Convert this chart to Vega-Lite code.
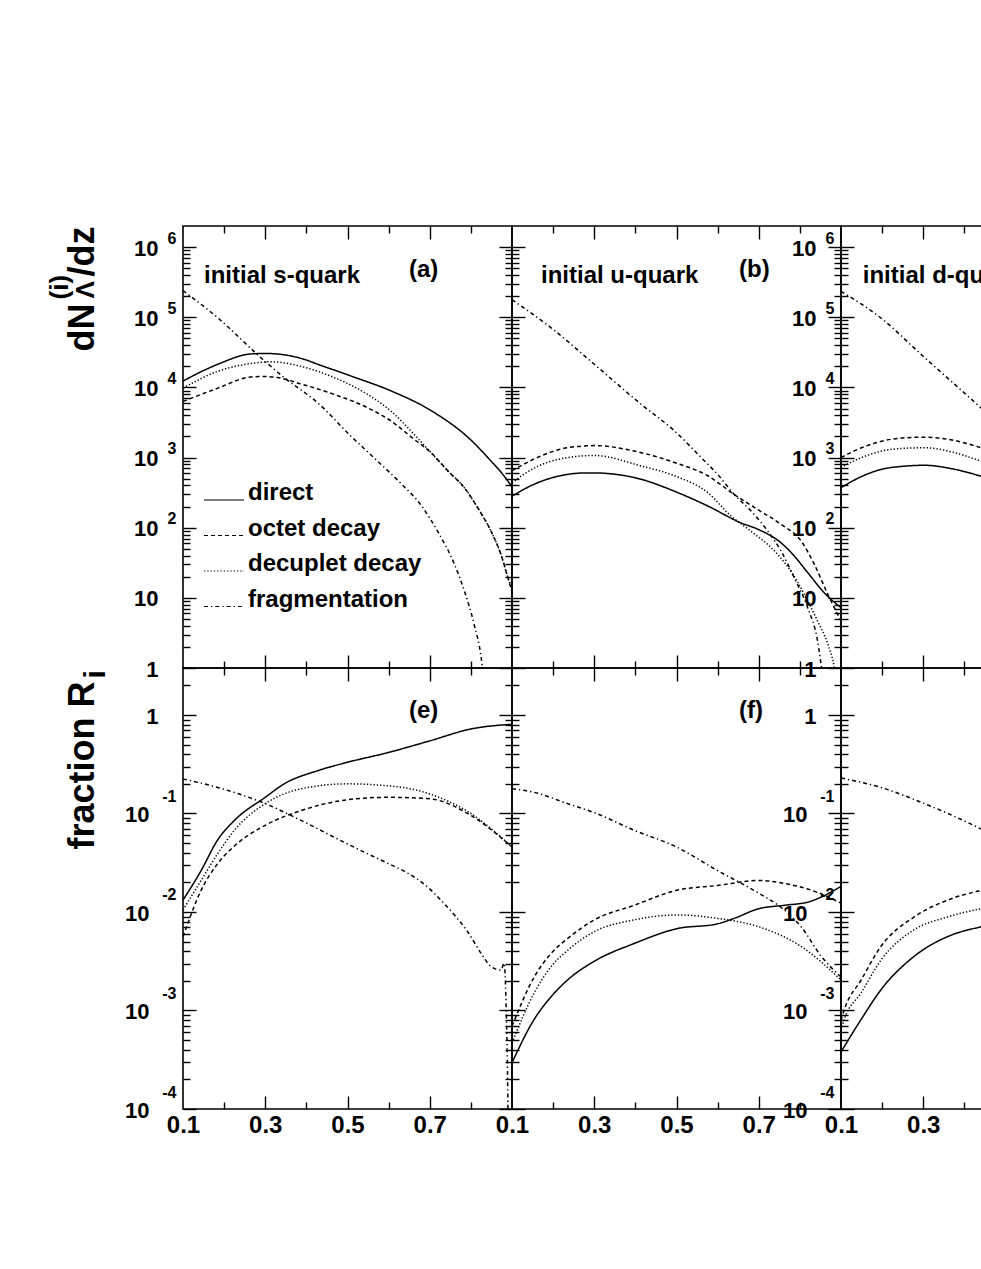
{
  "$schema": "https://vega.github.io/schema/vega-lite/v6.json",
  "background": "white",
  "padding": {"left": 45, "top": 224, "right": 0, "bottom": 0},
  "config": {
    "font": "Liberation Sans",
    "view": {"stroke": "black", "strokeWidth": 1.6},
    "axis": {
      "domain": false, "grid": false,
      "labelFont": "Liberation Sans", "labelFontWeight": "bold", "labelColor": "black",
      "labelOverlap": false, "labelFlush": false, "labelBound": false,
      "tickColor": "black", "tickWidth": 1.4,
      "titleFont": "Liberation Sans", "titleFontWeight": "bold", "titleColor": "black"
    }
  },
  "datasets": {
    "notes": [
      {"panel": "a", "label": "initial s-quark", "z": 0.151, "v": 307000},
      {"panel": "a", "label": "(a)", "z": 0.6495, "v": 373000},
      {"panel": "b", "label": "initial u-quark", "z": 0.1705, "v": 307000},
      {"panel": "b", "label": "(b)", "z": 0.652, "v": 373000},
      {"panel": "c", "label": "initial d-quark", "z": 0.153, "v": 310000},
      {"panel": "c", "label": "(c)", "z": 0.652, "v": 373000},
      {"panel": "e", "label": "(e)", "z": 0.6495, "v": 0.94},
      {"panel": "f", "label": "(f)", "z": 0.652, "v": 0.94},
      {"panel": "g", "label": "(g)", "z": 0.652, "v": 0.94}
    ],
    "curves": [
      {"panel": "a", "series": "direct", "z": 0.1, "v": 12300},
      {"panel": "a", "series": "direct", "z": 0.15, "v": 17400},
      {"panel": "a", "series": "direct", "z": 0.185, "v": 21400},
      {"panel": "a", "series": "direct", "z": 0.265, "v": 30000},
      {"panel": "a", "series": "direct", "z": 0.3, "v": 30500},
      {"panel": "a", "series": "direct", "z": 0.34, "v": 29500},
      {"panel": "a", "series": "direct", "z": 0.395, "v": 25100},
      {"panel": "a", "series": "direct", "z": 0.4275, "v": 21400},
      {"panel": "a", "series": "direct", "z": 0.509, "v": 14500},
      {"panel": "a", "series": "direct", "z": 0.606, "v": 8910},
      {"panel": "a", "series": "direct", "z": 0.703, "v": 4680},
      {"panel": "a", "series": "direct", "z": 0.8, "v": 1780},
      {"panel": "a", "series": "direct", "z": 0.849, "v": 891},
      {"panel": "a", "series": "direct", "z": 0.875, "v": 603},
      {"panel": "a", "series": "direct", "z": 0.9, "v": 380},
      {"panel": "a", "series": "octet decay", "z": 0.1, "v": 6310},
      {"panel": "a", "series": "octet decay", "z": 0.185, "v": 9770},
      {"panel": "a", "series": "octet decay", "z": 0.265, "v": 14100},
      {"panel": "a", "series": "octet decay", "z": 0.3, "v": 14300},
      {"panel": "a", "series": "octet decay", "z": 0.33, "v": 13800},
      {"panel": "a", "series": "octet decay", "z": 0.387, "v": 11200},
      {"panel": "a", "series": "octet decay", "z": 0.468, "v": 7940},
      {"panel": "a", "series": "octet decay", "z": 0.549, "v": 5130},
      {"panel": "a", "series": "octet decay", "z": 0.606, "v": 3310},
      {"panel": "a", "series": "octet decay", "z": 0.662, "v": 1820},
      {"panel": "a", "series": "octet decay", "z": 0.703, "v": 1175},
      {"panel": "a", "series": "octet decay", "z": 0.744, "v": 646},
      {"panel": "a", "series": "octet decay", "z": 0.784, "v": 372},
      {"panel": "a", "series": "octet decay", "z": 0.817, "v": 191},
      {"panel": "a", "series": "octet decay", "z": 0.849, "v": 89.1},
      {"panel": "a", "series": "octet decay", "z": 0.873, "v": 41.7},
      {"panel": "a", "series": "octet decay", "z": 0.89, "v": 19.5},
      {"panel": "a", "series": "octet decay", "z": 0.9, "v": 12},
      {"panel": "a", "series": "decuplet decay", "z": 0.1, "v": 9770},
      {"panel": "a", "series": "decuplet decay", "z": 0.185, "v": 17000},
      {"panel": "a", "series": "decuplet decay", "z": 0.265, "v": 21900},
      {"panel": "a", "series": "decuplet decay", "z": 0.314, "v": 23200},
      {"panel": "a", "series": "decuplet decay", "z": 0.387, "v": 19950},
      {"panel": "a", "series": "decuplet decay", "z": 0.468, "v": 13800},
      {"panel": "a", "series": "decuplet decay", "z": 0.549, "v": 7940},
      {"panel": "a", "series": "decuplet decay", "z": 0.606, "v": 4570},
      {"panel": "a", "series": "decuplet decay", "z": 0.662, "v": 2140},
      {"panel": "a", "series": "decuplet decay", "z": 0.703, "v": 1175},
      {"panel": "a", "series": "decuplet decay", "z": 0.744, "v": 646},
      {"panel": "a", "series": "decuplet decay", "z": 0.784, "v": 372},
      {"panel": "a", "series": "decuplet decay", "z": 0.817, "v": 191},
      {"panel": "a", "series": "decuplet decay", "z": 0.849, "v": 89.1},
      {"panel": "a", "series": "decuplet decay", "z": 0.873, "v": 41.7},
      {"panel": "a", "series": "decuplet decay", "z": 0.89, "v": 19.5},
      {"panel": "a", "series": "decuplet decay", "z": 0.9, "v": 13.8},
      {"panel": "a", "series": "fragmentation", "z": 0.1, "v": 240000},
      {"panel": "a", "series": "fragmentation", "z": 0.185, "v": 97700},
      {"panel": "a", "series": "fragmentation", "z": 0.29, "v": 26300},
      {"panel": "a", "series": "fragmentation", "z": 0.346, "v": 13800},
      {"panel": "a", "series": "fragmentation", "z": 0.4275, "v": 6030},
      {"panel": "a", "series": "fragmentation", "z": 0.509, "v": 2000},
      {"panel": "a", "series": "fragmentation", "z": 0.573, "v": 891},
      {"panel": "a", "series": "fragmentation", "z": 0.63, "v": 427},
      {"panel": "a", "series": "fragmentation", "z": 0.679, "v": 209},
      {"panel": "a", "series": "fragmentation", "z": 0.719, "v": 89.1},
      {"panel": "a", "series": "fragmentation", "z": 0.76, "v": 30.2},
      {"panel": "a", "series": "fragmentation", "z": 0.784, "v": 12.6},
      {"panel": "a", "series": "fragmentation", "z": 0.808, "v": 4.17},
      {"panel": "a", "series": "fragmentation", "z": 0.825, "v": 1.41},
      {"panel": "a", "series": "fragmentation", "z": 0.832, "v": 0.63},

      {"panel": "b", "series": "direct", "z": 0.1, "v": 282},
      {"panel": "b", "series": "direct", "z": 0.154, "v": 417},
      {"panel": "b", "series": "direct", "z": 0.235, "v": 575},
      {"panel": "b", "series": "direct", "z": 0.276, "v": 603},
      {"panel": "b", "series": "direct", "z": 0.3, "v": 603},
      {"panel": "b", "series": "direct", "z": 0.414, "v": 490},
      {"panel": "b", "series": "direct", "z": 0.495, "v": 331},
      {"panel": "b", "series": "direct", "z": 0.576, "v": 204},
      {"panel": "b", "series": "direct", "z": 0.657, "v": 117},
      {"panel": "b", "series": "direct", "z": 0.697, "v": 95.5},
      {"panel": "b", "series": "direct", "z": 0.754, "v": 61},
      {"panel": "b", "series": "direct", "z": 0.786, "v": 39.8},
      {"panel": "b", "series": "direct", "z": 0.819, "v": 22.9},
      {"panel": "b", "series": "direct", "z": 0.86, "v": 11.7},
      {"panel": "b", "series": "direct", "z": 0.9, "v": 7.24},
      {"panel": "b", "series": "octet decay", "z": 0.1, "v": 646},
      {"panel": "b", "series": "octet decay", "z": 0.154, "v": 955},
      {"panel": "b", "series": "octet decay", "z": 0.235, "v": 1380},
      {"panel": "b", "series": "octet decay", "z": 0.3, "v": 1480},
      {"panel": "b", "series": "octet decay", "z": 0.414, "v": 1175},
      {"panel": "b", "series": "octet decay", "z": 0.495, "v": 851},
      {"panel": "b", "series": "octet decay", "z": 0.576, "v": 550},
      {"panel": "b", "series": "octet decay", "z": 0.64, "v": 299},
      {"panel": "b", "series": "octet decay", "z": 0.697, "v": 182},
      {"panel": "b", "series": "octet decay", "z": 0.754, "v": 112},
      {"panel": "b", "series": "octet decay", "z": 0.803, "v": 64.6},
      {"panel": "b", "series": "octet decay", "z": 0.835, "v": 30.2},
      {"panel": "b", "series": "octet decay", "z": 0.868, "v": 11.2},
      {"panel": "b", "series": "octet decay", "z": 0.9, "v": 4.68},
      {"panel": "b", "series": "decuplet decay", "z": 0.1, "v": 437},
      {"panel": "b", "series": "decuplet decay", "z": 0.154, "v": 708},
      {"panel": "b", "series": "decuplet decay", "z": 0.235, "v": 1000},
      {"panel": "b", "series": "decuplet decay", "z": 0.3, "v": 1070},
      {"panel": "b", "series": "decuplet decay", "z": 0.414, "v": 759},
      {"panel": "b", "series": "decuplet decay", "z": 0.495, "v": 550},
      {"panel": "b", "series": "decuplet decay", "z": 0.576, "v": 316},
      {"panel": "b", "series": "decuplet decay", "z": 0.632, "v": 148},
      {"panel": "b", "series": "decuplet decay", "z": 0.681, "v": 89.1},
      {"panel": "b", "series": "decuplet decay", "z": 0.738, "v": 46.8},
      {"panel": "b", "series": "decuplet decay", "z": 0.778, "v": 24},
      {"panel": "b", "series": "decuplet decay", "z": 0.811, "v": 11.2},
      {"panel": "b", "series": "decuplet decay", "z": 0.843, "v": 4.68},
      {"panel": "b", "series": "decuplet decay", "z": 0.868, "v": 2.19},
      {"panel": "b", "series": "decuplet decay", "z": 0.884, "v": 1},
      {"panel": "b", "series": "decuplet decay", "z": 0.892, "v": 0.5},
      {"panel": "b", "series": "fragmentation", "z": 0.1, "v": 178000},
      {"panel": "b", "series": "fragmentation", "z": 0.195, "v": 70800},
      {"panel": "b", "series": "fragmentation", "z": 0.3, "v": 21400},
      {"panel": "b", "series": "fragmentation", "z": 0.414, "v": 5750},
      {"panel": "b", "series": "fragmentation", "z": 0.495, "v": 2400},
      {"panel": "b", "series": "fragmentation", "z": 0.56, "v": 1000},
      {"panel": "b", "series": "fragmentation", "z": 0.6, "v": 575},
      {"panel": "b", "series": "fragmentation", "z": 0.64, "v": 299},
      {"panel": "b", "series": "fragmentation", "z": 0.681, "v": 174},
      {"panel": "b", "series": "fragmentation", "z": 0.722, "v": 89.1},
      {"panel": "b", "series": "fragmentation", "z": 0.754, "v": 46.8},
      {"panel": "b", "series": "fragmentation", "z": 0.786, "v": 19.5},
      {"panel": "b", "series": "fragmentation", "z": 0.819, "v": 7.24},
      {"panel": "b", "series": "fragmentation", "z": 0.843, "v": 2.43},
      {"panel": "b", "series": "fragmentation", "z": 0.855, "v": 0.79},

      {"panel": "c", "series": "direct", "z": 0.1, "v": 372},
      {"panel": "c", "series": "direct", "z": 0.15, "v": 537},
      {"panel": "c", "series": "direct", "z": 0.197, "v": 676},
      {"panel": "c", "series": "direct", "z": 0.25, "v": 750},
      {"panel": "c", "series": "direct", "z": 0.303, "v": 776},
      {"panel": "c", "series": "direct", "z": 0.37, "v": 692},
      {"panel": "c", "series": "direct", "z": 0.44, "v": 543},
      {"panel": "c", "series": "direct", "z": 0.47, "v": 479},
      {"panel": "c", "series": "octet decay", "z": 0.1, "v": 1000},
      {"panel": "c", "series": "octet decay", "z": 0.15, "v": 1380},
      {"panel": "c", "series": "octet decay", "z": 0.197, "v": 1700},
      {"panel": "c", "series": "octet decay", "z": 0.25, "v": 1905},
      {"panel": "c", "series": "octet decay", "z": 0.303, "v": 1950},
      {"panel": "c", "series": "octet decay", "z": 0.37, "v": 1780},
      {"panel": "c", "series": "octet decay", "z": 0.44, "v": 1380},
      {"panel": "c", "series": "octet decay", "z": 0.47, "v": 1200},
      {"panel": "c", "series": "decuplet decay", "z": 0.1, "v": 724},
      {"panel": "c", "series": "decuplet decay", "z": 0.15, "v": 1000},
      {"panel": "c", "series": "decuplet decay", "z": 0.197, "v": 1230},
      {"panel": "c", "series": "decuplet decay", "z": 0.25, "v": 1350},
      {"panel": "c", "series": "decuplet decay", "z": 0.303, "v": 1380},
      {"panel": "c", "series": "decuplet decay", "z": 0.37, "v": 1200},
      {"panel": "c", "series": "decuplet decay", "z": 0.44, "v": 891},
      {"panel": "c", "series": "decuplet decay", "z": 0.47, "v": 776},
      {"panel": "c", "series": "fragmentation", "z": 0.1, "v": 234000},
      {"panel": "c", "series": "fragmentation", "z": 0.197, "v": 97700},
      {"panel": "c", "series": "fragmentation", "z": 0.295, "v": 29500},
      {"panel": "c", "series": "fragmentation", "z": 0.44, "v": 5130},
      {"panel": "c", "series": "fragmentation", "z": 0.47, "v": 3550},

      {"panel": "e", "series": "direct", "z": 0.1, "v": 0.0132},
      {"panel": "e", "series": "direct", "z": 0.144, "v": 0.0263},
      {"panel": "e", "series": "direct", "z": 0.184, "v": 0.0537},
      {"panel": "e", "series": "direct", "z": 0.225, "v": 0.0851},
      {"panel": "e", "series": "direct", "z": 0.3, "v": 0.146},
      {"panel": "e", "series": "direct", "z": 0.346, "v": 0.2},
      {"panel": "e", "series": "direct", "z": 0.4275, "v": 0.272},
      {"panel": "e", "series": "direct", "z": 0.5, "v": 0.331},
      {"panel": "e", "series": "direct", "z": 0.6, "v": 0.417},
      {"panel": "e", "series": "direct", "z": 0.7, "v": 0.546},
      {"panel": "e", "series": "direct", "z": 0.8, "v": 0.721},
      {"panel": "e", "series": "direct", "z": 0.9, "v": 0.805},
      {"panel": "e", "series": "octet decay", "z": 0.1, "v": 0.0056},
      {"panel": "e", "series": "octet decay", "z": 0.144, "v": 0.0166},
      {"panel": "e", "series": "octet decay", "z": 0.184, "v": 0.0309},
      {"panel": "e", "series": "octet decay", "z": 0.225, "v": 0.0468},
      {"panel": "e", "series": "octet decay", "z": 0.3, "v": 0.0759},
      {"panel": "e", "series": "octet decay", "z": 0.387, "v": 0.107},
      {"panel": "e", "series": "octet decay", "z": 0.5, "v": 0.138},
      {"panel": "e", "series": "octet decay", "z": 0.6, "v": 0.146},
      {"panel": "e", "series": "octet decay", "z": 0.7, "v": 0.141},
      {"panel": "e", "series": "octet decay", "z": 0.8, "v": 0.0955},
      {"panel": "e", "series": "octet decay", "z": 0.9, "v": 0.0457},
      {"panel": "e", "series": "decuplet decay", "z": 0.1, "v": 0.0105},
      {"panel": "e", "series": "decuplet decay", "z": 0.144, "v": 0.0209},
      {"panel": "e", "series": "decuplet decay", "z": 0.184, "v": 0.0389},
      {"panel": "e", "series": "decuplet decay", "z": 0.225, "v": 0.0676},
      {"panel": "e", "series": "decuplet decay", "z": 0.3, "v": 0.126},
      {"panel": "e", "series": "decuplet decay", "z": 0.387, "v": 0.178},
      {"panel": "e", "series": "decuplet decay", "z": 0.5, "v": 0.2},
      {"panel": "e", "series": "decuplet decay", "z": 0.573, "v": 0.195},
      {"panel": "e", "series": "decuplet decay", "z": 0.7, "v": 0.158},
      {"panel": "e", "series": "decuplet decay", "z": 0.8, "v": 0.1},
      {"panel": "e", "series": "decuplet decay", "z": 0.9, "v": 0.0457},
      {"panel": "e", "series": "fragmentation", "z": 0.1, "v": 0.224},
      {"panel": "e", "series": "fragmentation", "z": 0.184, "v": 0.184},
      {"panel": "e", "series": "fragmentation", "z": 0.3, "v": 0.126},
      {"panel": "e", "series": "fragmentation", "z": 0.387, "v": 0.0851},
      {"panel": "e", "series": "fragmentation", "z": 0.5, "v": 0.049},
      {"panel": "e", "series": "fragmentation", "z": 0.6, "v": 0.0309},
      {"panel": "e", "series": "fragmentation", "z": 0.642, "v": 0.0254},
      {"panel": "e", "series": "fragmentation", "z": 0.695, "v": 0.0179},
      {"panel": "e", "series": "fragmentation", "z": 0.727, "v": 0.0132},
      {"panel": "e", "series": "fragmentation", "z": 0.76, "v": 0.00933},
      {"panel": "e", "series": "fragmentation", "z": 0.792, "v": 0.00631},
      {"panel": "e", "series": "fragmentation", "z": 0.825, "v": 0.0038},
      {"panel": "e", "series": "fragmentation", "z": 0.849, "v": 0.00279},
      {"panel": "e", "series": "fragmentation", "z": 0.873, "v": 0.00257},
      {"panel": "e", "series": "fragmentation", "z": 0.881, "v": 0.00302},
      {"panel": "e", "series": "fragmentation", "z": 0.886, "v": 0.001},
      {"panel": "e", "series": "fragmentation", "z": 0.889, "v": 0.00025},
      {"panel": "e", "series": "fragmentation", "z": 0.891, "v": 0.00005},

      {"panel": "f", "series": "direct", "z": 0.1, "v": 0.000295},
      {"panel": "f", "series": "direct", "z": 0.154, "v": 0.000813},
      {"panel": "f", "series": "direct", "z": 0.195, "v": 0.00138},
      {"panel": "f", "series": "direct", "z": 0.235, "v": 0.00204},
      {"panel": "f", "series": "direct", "z": 0.3, "v": 0.00316},
      {"panel": "f", "series": "direct", "z": 0.397, "v": 0.00479},
      {"panel": "f", "series": "direct", "z": 0.5, "v": 0.00676},
      {"panel": "f", "series": "direct", "z": 0.6, "v": 0.00759},
      {"panel": "f", "series": "direct", "z": 0.64, "v": 0.00861},
      {"panel": "f", "series": "direct", "z": 0.7, "v": 0.0108},
      {"panel": "f", "series": "direct", "z": 0.762, "v": 0.0117},
      {"panel": "f", "series": "direct", "z": 0.819, "v": 0.0126},
      {"panel": "f", "series": "direct", "z": 0.9, "v": 0.0182},
      {"panel": "f", "series": "octet decay", "z": 0.1, "v": 0.000692},
      {"panel": "f", "series": "octet decay", "z": 0.154, "v": 0.00219},
      {"panel": "f", "series": "octet decay", "z": 0.195, "v": 0.0038},
      {"panel": "f", "series": "octet decay", "z": 0.235, "v": 0.00537},
      {"panel": "f", "series": "octet decay", "z": 0.3, "v": 0.00832},
      {"panel": "f", "series": "octet decay", "z": 0.397, "v": 0.0117},
      {"panel": "f", "series": "octet decay", "z": 0.5, "v": 0.0166},
      {"panel": "f", "series": "octet decay", "z": 0.6, "v": 0.0186},
      {"panel": "f", "series": "octet decay", "z": 0.7, "v": 0.0209},
      {"panel": "f", "series": "octet decay", "z": 0.762, "v": 0.0195},
      {"panel": "f", "series": "octet decay", "z": 0.843, "v": 0.0158},
      {"panel": "f", "series": "octet decay", "z": 0.9, "v": 0.0123},
      {"panel": "f", "series": "decuplet decay", "z": 0.1, "v": 0.000468},
      {"panel": "f", "series": "decuplet decay", "z": 0.154, "v": 0.00151},
      {"panel": "f", "series": "decuplet decay", "z": 0.195, "v": 0.00279},
      {"panel": "f", "series": "decuplet decay", "z": 0.235, "v": 0.00407},
      {"panel": "f", "series": "decuplet decay", "z": 0.3, "v": 0.00631},
      {"panel": "f", "series": "decuplet decay", "z": 0.397, "v": 0.00832},
      {"panel": "f", "series": "decuplet decay", "z": 0.5, "v": 0.00933},
      {"panel": "f", "series": "decuplet decay", "z": 0.6, "v": 0.00861},
      {"panel": "f", "series": "decuplet decay", "z": 0.7, "v": 0.00708},
      {"panel": "f", "series": "decuplet decay", "z": 0.803, "v": 0.00447},
      {"panel": "f", "series": "decuplet decay", "z": 0.9, "v": 0.00204},
      {"panel": "f", "series": "fragmentation", "z": 0.1, "v": 0.178},
      {"panel": "f", "series": "fragmentation", "z": 0.154, "v": 0.164},
      {"panel": "f", "series": "fragmentation", "z": 0.235, "v": 0.126},
      {"panel": "f", "series": "fragmentation", "z": 0.3, "v": 0.102},
      {"panel": "f", "series": "fragmentation", "z": 0.397, "v": 0.0676},
      {"panel": "f", "series": "fragmentation", "z": 0.5, "v": 0.0457},
      {"panel": "f", "series": "fragmentation", "z": 0.6, "v": 0.0263},
      {"panel": "f", "series": "fragmentation", "z": 0.7, "v": 0.0155},
      {"panel": "f", "series": "fragmentation", "z": 0.762, "v": 0.0105},
      {"panel": "f", "series": "fragmentation", "z": 0.803, "v": 0.00708},
      {"panel": "f", "series": "fragmentation", "z": 0.852, "v": 0.00355},
      {"panel": "f", "series": "fragmentation", "z": 0.9, "v": 0.00219},

      {"panel": "g", "series": "direct", "z": 0.1, "v": 0.00038},
      {"panel": "g", "series": "direct", "z": 0.149, "v": 0.000813},
      {"panel": "g", "series": "direct", "z": 0.197, "v": 0.00162},
      {"panel": "g", "series": "direct", "z": 0.278, "v": 0.00355},
      {"panel": "g", "series": "direct", "z": 0.359, "v": 0.00562},
      {"panel": "g", "series": "direct", "z": 0.44, "v": 0.00708},
      {"panel": "g", "series": "direct", "z": 0.47, "v": 0.00759},
      {"panel": "g", "series": "octet decay", "z": 0.1, "v": 0.000794},
      {"panel": "g", "series": "octet decay", "z": 0.108, "v": 0.00102},
      {"panel": "g", "series": "octet decay", "z": 0.149, "v": 0.00204},
      {"panel": "g", "series": "octet decay", "z": 0.197, "v": 0.00447},
      {"panel": "g", "series": "octet decay", "z": 0.278, "v": 0.00891},
      {"panel": "g", "series": "octet decay", "z": 0.359, "v": 0.0132},
      {"panel": "g", "series": "octet decay", "z": 0.44, "v": 0.0166},
      {"panel": "g", "series": "octet decay", "z": 0.47, "v": 0.0178},
      {"panel": "g", "series": "decuplet decay", "z": 0.1, "v": 0.000631},
      {"panel": "g", "series": "decuplet decay", "z": 0.108, "v": 0.000813},
      {"panel": "g", "series": "decuplet decay", "z": 0.149, "v": 0.00151},
      {"panel": "g", "series": "decuplet decay", "z": 0.197, "v": 0.00324},
      {"panel": "g", "series": "decuplet decay", "z": 0.278, "v": 0.00661},
      {"panel": "g", "series": "decuplet decay", "z": 0.359, "v": 0.00891},
      {"panel": "g", "series": "decuplet decay", "z": 0.44, "v": 0.0108},
      {"panel": "g", "series": "decuplet decay", "z": 0.47, "v": 0.0115},
      {"panel": "g", "series": "fragmentation", "z": 0.1, "v": 0.229},
      {"panel": "g", "series": "fragmentation", "z": 0.197, "v": 0.184},
      {"panel": "g", "series": "fragmentation", "z": 0.303, "v": 0.126},
      {"panel": "g", "series": "fragmentation", "z": 0.44, "v": 0.0698},
      {"panel": "g", "series": "fragmentation", "z": 0.47, "v": 0.0603}
    ]
  },
  "columns": 3,
  "spacing": 0,
  "bounds": "flush",
  "concat": [
    {
      "width": 329, "height": 442,
      "data": {"name": "curves"},
      "transform": [{"filter": "datum.panel == 'a'"}],
      "layer": [
        {
          "mark": {"type": "line", "clip": true, "color": "black", "strokeWidth": 1.5, "interpolate": "monotone"},
          "encoding": {
            "x": {"field": "z", "type": "quantitative", "scale": {"domain": [0.1, 0.9], "nice": false, "zero": false},
              "axis": {"orient": "bottom", "values": [0.2, 0.3, 0.4, 0.5, 0.6, 0.7, 0.8], "labels": false, "title": null,
                "tickSize": {"condition": {"test": "datum.value == 0.3 || datum.value == 0.5 || datum.value == 0.7", "value": -13}, "value": -7}}},
            "y": {"field": "v", "type": "quantitative", "scale": {"type": "log", "domain": [1, 2000000], "nice": false},
              "axis": {"orient": "left", "labels": false,
                "values": [1,2,3,4,5,6,7,8,9,10,20,30,40,50,60,70,80,90,100,200,300,400,500,600,700,800,900,1000,2000,3000,4000,5000,6000,7000,8000,9000,10000,20000,30000,40000,50000,60000,70000,80000,90000,100000,200000,300000,400000,500000,600000,700000,800000,900000,1000000],
                "tickSize": {"condition": {"test": "indexof([1,10,100,1000,10000,100000,1000000], datum.value) >= 0", "value": -13}, "value": -7},
                "title": "dN", "titleX": -90, "titleY": 125, "titleAngle": 270, "titleAlign": "left", "titleBaseline": "alphabetic", "titleFontSize": 36}},
            "strokeDash": {"field": "series", "type": "nominal",
              "scale": {"domain": ["direct", "octet decay", "decuplet decay", "fragmentation"], "range": [[1, 0], [4, 3], [1.3, 2], [4, 3, 1.3, 3]]},
              "legend": {"orient": "none", "legendX": 20, "legendY": 253, "title": null, "padding": 0,
                "symbolType": "stroke", "symbolSize": 1600, "symbolStrokeWidth": 1.1, "symbolStrokeColor": "black",
                "labelFont": "Liberation Sans", "labelFontWeight": "bold", "labelFontSize": 24, "labelColor": "black",
                "labelOffset": 3, "labelBaseline": "alphabetic", "labelLimit": 0, "rowPadding": 9.5}}
          }
        },
        {
          "mark": {"type": "point", "opacity": 0},
          "encoding": {
            "x": {"field": "z", "type": "quantitative",
              "axis": {"orient": "top", "values": [0.2, 0.3, 0.4, 0.5, 0.6, 0.7, 0.8], "labels": false, "title": null,
                "tickSize": {"condition": {"test": "datum.value == 0.3 || datum.value == 0.5 || datum.value == 0.7", "value": -13}, "value": -7}}},
            "y": {"field": "v", "type": "quantitative",
              "axis": {"orient": "right", "labels": false,
                "values": [1,2,3,4,5,6,7,8,9,10,20,30,40,50,60,70,80,90,100,200,300,400,500,600,700,800,900,1000,2000,3000,4000,5000,6000,7000,8000,9000,10000,20000,30000,40000,50000,60000,70000,80000,90000,100000,200000,300000,400000,500000,600000,700000,800000,900000,1000000],
                "tickSize": {"condition": {"test": "indexof([1,10,100,1000,10000,100000,1000000], datum.value) >= 0", "value": -13}, "value": -7},
                "title": "Λ", "titleX": -419, "titleY": 72, "titleAngle": 270, "titleAlign": "left", "titleBaseline": "alphabetic", "titleFontSize": 26}}
          }
        },
        {
          "data": {"name": "notes"},
          "transform": [{"filter": "datum.panel == 'a'"}],
          "mark": {"type": "text", "align": "left", "baseline": "alphabetic", "fontSize": 24, "fontWeight": "bold", "font": "Liberation Sans", "color": "black"},
          "encoding": {
            "x": {"field": "z", "type": "quantitative", "axis": null},
            "y": {"field": "v", "type": "quantitative",
              "axis": {"orient": "left", "ticks": false, "values": [1, 10, 100, 1000, 10000, 100000, 1000000],
                "labelExpr": "datum.value == 1 ? '1' : '10'", "labelAlign": "right", "labelBaseline": "middle",
                "labelPadding": 25, "labelOffset": 1, "labelFontSize": 22,
                "title": "/dz", "titleX": -90, "titleY": 50, "titleAngle": 270, "titleAlign": "left", "titleBaseline": "alphabetic", "titleFontSize": 36}},
            "text": {"field": "label"}
          }
        },
        {
          "mark": {"type": "point", "opacity": 0},
          "encoding": {
            "x": {"field": "z", "type": "quantitative", "axis": null},
            "y": {"field": "v", "type": "quantitative",
              "axis": {"orient": "left", "ticks": false, "values": [100, 1000, 10000, 100000, 1000000],
                "labelExpr": "'' + round(log(datum.value) / LN10)", "labelAlign": "right", "labelBaseline": "middle",
                "labelPadding": 7, "labelOffset": -9, "labelFontSize": 16,
                "title": "(i)", "titleX": -115.5, "titleY": 73, "titleAngle": 270, "titleAlign": "left", "titleBaseline": "alphabetic", "titleFontSize": 26}}
          }
        }
      ],
      "resolve": {"axis": {"x": "independent", "y": "independent"}}
    },
    {
      "width": 329, "height": 442,
      "data": {"name": "curves"},
      "transform": [{"filter": "datum.panel == 'b'"}],
      "layer": [
        {
          "mark": {"type": "line", "clip": true, "color": "black", "strokeWidth": 1.5, "interpolate": "monotone"},
          "encoding": {
            "x": {"field": "z", "type": "quantitative", "scale": {"domain": [0.1, 0.9], "nice": false, "zero": false},
              "axis": {"orient": "bottom", "values": [0.2, 0.3, 0.4, 0.5, 0.6, 0.7, 0.8], "labels": false, "title": null,
                "tickSize": {"condition": {"test": "datum.value == 0.3 || datum.value == 0.5 || datum.value == 0.7", "value": -13}, "value": -7}}},
            "y": {"field": "v", "type": "quantitative", "scale": {"type": "log", "domain": [1, 2000000], "nice": false},
              "axis": {"orient": "left", "labels": false, "title": null,
                "values": [1,2,3,4,5,6,7,8,9,10,20,30,40,50,60,70,80,90,100,200,300,400,500,600,700,800,900,1000,2000,3000,4000,5000,6000,7000,8000,9000,10000,20000,30000,40000,50000,60000,70000,80000,90000,100000,200000,300000,400000,500000,600000,700000,800000,900000,1000000],
                "tickSize": {"condition": {"test": "indexof([1,10,100,1000,10000,100000,1000000], datum.value) >= 0", "value": -13}, "value": -7}}},
            "strokeDash": {"field": "series", "type": "nominal",
              "scale": {"domain": ["direct", "octet decay", "decuplet decay", "fragmentation"], "range": [[1, 0], [4, 3], [1.3, 2], [4, 3, 1.3, 3]]}}
          }
        },
        {
          "mark": {"type": "point", "opacity": 0},
          "encoding": {
            "x": {"field": "z", "type": "quantitative",
              "axis": {"orient": "top", "values": [0.2, 0.3, 0.4, 0.5, 0.6, 0.7, 0.8], "labels": false, "title": null,
                "tickSize": {"condition": {"test": "datum.value == 0.3 || datum.value == 0.5 || datum.value == 0.7", "value": -13}, "value": -7}}},
            "y": {"field": "v", "type": "quantitative",
              "axis": {"orient": "right", "labels": false, "title": null,
                "values": [1,2,3,4,5,6,7,8,9,10,20,30,40,50,60,70,80,90,100,200,300,400,500,600,700,800,900,1000,2000,3000,4000,5000,6000,7000,8000,9000,10000,20000,30000,40000,50000,60000,70000,80000,90000,100000,200000,300000,400000,500000,600000,700000,800000,900000,1000000],
                "tickSize": {"condition": {"test": "indexof([1,10,100,1000,10000,100000,1000000], datum.value) >= 0", "value": -13}, "value": -7}}}
          }
        },
        {
          "data": {"name": "notes"},
          "transform": [{"filter": "datum.panel == 'b'"}],
          "mark": {"type": "text", "align": "left", "baseline": "alphabetic", "fontSize": 24, "fontWeight": "bold", "font": "Liberation Sans", "color": "black"},
          "encoding": {
            "x": {"field": "z", "type": "quantitative", "axis": null},
            "y": {"field": "v", "type": "quantitative", "axis": null},
            "text": {"field": "label"}
          }
        }
      ],
      "resolve": {"axis": {"x": "independent", "y": "independent"}}
    },
    {
      "width": 329, "height": 442,
      "data": {"name": "curves"},
      "transform": [{"filter": "datum.panel == 'c'"}],
      "layer": [
        {
          "mark": {"type": "line", "clip": true, "color": "black", "strokeWidth": 1.5, "interpolate": "monotone"},
          "encoding": {
            "x": {"field": "z", "type": "quantitative", "scale": {"domain": [0.1, 0.9], "nice": false, "zero": false},
              "axis": {"orient": "bottom", "values": [0.2, 0.3, 0.4, 0.5, 0.6, 0.7, 0.8], "labels": false, "title": null,
                "tickSize": {"condition": {"test": "datum.value == 0.3 || datum.value == 0.5 || datum.value == 0.7", "value": -13}, "value": -7}}},
            "y": {"field": "v", "type": "quantitative", "scale": {"type": "log", "domain": [1, 2000000], "nice": false},
              "axis": {"orient": "left", "labels": false, "title": null,
                "values": [1,2,3,4,5,6,7,8,9,10,20,30,40,50,60,70,80,90,100,200,300,400,500,600,700,800,900,1000,2000,3000,4000,5000,6000,7000,8000,9000,10000,20000,30000,40000,50000,60000,70000,80000,90000,100000,200000,300000,400000,500000,600000,700000,800000,900000,1000000],
                "tickSize": {"condition": {"test": "indexof([1,10,100,1000,10000,100000,1000000], datum.value) >= 0", "value": -13}, "value": -7}}},
            "strokeDash": {"field": "series", "type": "nominal",
              "scale": {"domain": ["direct", "octet decay", "decuplet decay", "fragmentation"], "range": [[1, 0], [4, 3], [1.3, 2], [4, 3, 1.3, 3]]}}
          }
        },
        {
          "mark": {"type": "point", "opacity": 0},
          "encoding": {
            "x": {"field": "z", "type": "quantitative",
              "axis": {"orient": "top", "values": [0.2, 0.3, 0.4, 0.5, 0.6, 0.7, 0.8], "labels": false, "title": null,
                "tickSize": {"condition": {"test": "datum.value == 0.3 || datum.value == 0.5 || datum.value == 0.7", "value": -13}, "value": -7}}},
            "y": {"field": "v", "type": "quantitative",
              "axis": {"orient": "right", "labels": false, "title": null,
                "values": [1,2,3,4,5,6,7,8,9,10,20,30,40,50,60,70,80,90,100,200,300,400,500,600,700,800,900,1000,2000,3000,4000,5000,6000,7000,8000,9000,10000,20000,30000,40000,50000,60000,70000,80000,90000,100000,200000,300000,400000,500000,600000,700000,800000,900000,1000000],
                "tickSize": {"condition": {"test": "indexof([1,10,100,1000,10000,100000,1000000], datum.value) >= 0", "value": -13}, "value": -7}}}
          }
        },
        {
          "data": {"name": "notes"},
          "transform": [{"filter": "datum.panel == 'c'"}],
          "mark": {"type": "text", "align": "left", "baseline": "alphabetic", "fontSize": 24, "fontWeight": "bold", "font": "Liberation Sans", "color": "black"},
          "encoding": {
            "x": {"field": "z", "type": "quantitative", "axis": null},
            "y": {"field": "v", "type": "quantitative",
              "axis": {"orient": "left", "ticks": false, "title": null, "values": [1, 10, 100, 1000, 10000, 100000, 1000000],
                "labelExpr": "datum.value == 1 ? '1' : '10'", "labelAlign": "right", "labelBaseline": "middle",
                "labelPadding": 25, "labelOffset": 1, "labelFontSize": 22}},
            "text": {"field": "label"}
          }
        },
        {
          "mark": {"type": "point", "opacity": 0},
          "encoding": {
            "x": {"field": "z", "type": "quantitative", "axis": null},
            "y": {"field": "v", "type": "quantitative",
              "axis": {"orient": "left", "ticks": false, "title": null, "values": [100, 1000, 10000, 100000, 1000000],
                "labelExpr": "'' + round(log(datum.value) / LN10)", "labelAlign": "right", "labelBaseline": "middle",
                "labelPadding": 7, "labelOffset": -9, "labelFontSize": 16}}
          }
        }
      ],
      "resolve": {"axis": {"x": "independent", "y": "independent"}}
    },
    {
      "width": 329, "height": 441,
      "data": {"name": "curves"},
      "transform": [{"filter": "datum.panel == 'e'"}],
      "layer": [
        {
          "mark": {"type": "line", "clip": true, "color": "black", "strokeWidth": 1.5, "interpolate": "monotone"},
          "encoding": {
            "x": {"field": "z", "type": "quantitative", "scale": {"domain": [0.1, 0.9], "nice": false, "zero": false},
              "axis": {"orient": "bottom", "values": [0.2, 0.3, 0.4, 0.5, 0.6, 0.7, 0.8], "labels": false, "title": null,
                "tickSize": {"condition": {"test": "datum.value == 0.3 || datum.value == 0.5 || datum.value == 0.7", "value": -13}, "value": -7}}},
            "y": {"field": "v", "type": "quantitative", "scale": {"type": "log", "domain": [0.0001, 3], "nice": false},
              "axis": {"orient": "left", "labels": false,
                "values": [0.0001,0.0002,0.0003,0.0004,0.0005,0.0006,0.0007,0.0008,0.0009,0.001,0.002,0.003,0.004,0.005,0.006,0.007,0.008,0.009,0.01,0.02,0.03,0.04,0.05,0.06,0.07,0.08,0.09,0.1,0.2,0.3,0.4,0.5,0.6,0.7,0.8,0.9,1,2],
                "tickSize": {"condition": {"test": "indexof([0.0001,0.001,0.01,0.1,1], datum.value) >= 0", "value": -13}, "value": -7},
                "title": "fraction R", "titleX": -90, "titleY": 181, "titleAngle": 270, "titleAlign": "left", "titleBaseline": "alphabetic", "titleFontSize": 36}},
            "strokeDash": {"field": "series", "type": "nominal",
              "scale": {"domain": ["direct", "octet decay", "decuplet decay", "fragmentation"], "range": [[1, 0], [4, 3], [1.3, 2], [4, 3, 1.3, 3]]}}
          }
        },
        {
          "mark": {"type": "point", "opacity": 0},
          "encoding": {
            "x": {"field": "z", "type": "quantitative",
              "axis": {"orient": "top", "values": [0.2, 0.3, 0.4, 0.5, 0.6, 0.7, 0.8], "labels": false, "title": null,
                "tickSize": {"condition": {"test": "datum.value == 0.3 || datum.value == 0.5 || datum.value == 0.7", "value": -13}, "value": -7}}},
            "y": {"field": "v", "type": "quantitative",
              "axis": {"orient": "right", "labels": false,
                "values": [0.0001,0.0002,0.0003,0.0004,0.0005,0.0006,0.0007,0.0008,0.0009,0.001,0.002,0.003,0.004,0.005,0.006,0.007,0.008,0.009,0.01,0.02,0.03,0.04,0.05,0.06,0.07,0.08,0.09,0.1,0.2,0.3,0.4,0.5,0.6,0.7,0.8,0.9,1,2],
                "tickSize": {"condition": {"test": "indexof([0.0001,0.001,0.01,0.1,1], datum.value) >= 0", "value": -13}, "value": -7},
                "title": "i", "titleX": -408, "titleY": 10, "titleAngle": 270, "titleAlign": "left", "titleBaseline": "alphabetic", "titleFontSize": 30}}
          }
        },
        {
          "data": {"name": "notes"},
          "transform": [{"filter": "datum.panel == 'e'"}],
          "mark": {"type": "text", "align": "left", "baseline": "alphabetic", "fontSize": 24, "fontWeight": "bold", "font": "Liberation Sans", "color": "black"},
          "encoding": {
            "x": {"field": "z", "type": "quantitative",
              "axis": {"orient": "bottom", "ticks": false, "title": null, "values": [0.1, 0.3, 0.5, 0.7], "format": ".1f", "labelFontSize": 24, "labelPadding": 4}},
            "y": {"field": "v", "type": "quantitative",
              "axis": {"orient": "left", "ticks": false, "title": null, "values": [0.0001, 0.001, 0.01, 0.1, 1],
                "labelExpr": "datum.value == 1 ? '1' : '10'", "labelAlign": "right", "labelBaseline": "middle",
                "labelPadding": {"condition": {"test": "datum.value == 1", "value": 25}, "value": 34}, "labelOffset": 1.5, "labelFontSize": 22}},
            "text": {"field": "label"}
          }
        },
        {
          "mark": {"type": "point", "opacity": 0},
          "encoding": {
            "x": {"field": "z", "type": "quantitative", "axis": null},
            "y": {"field": "v", "type": "quantitative",
              "axis": {"orient": "left", "ticks": false, "title": null, "values": [0.0001, 0.001, 0.01, 0.1],
                "labelExpr": "'' + round(log(datum.value) / LN10)", "labelAlign": "right", "labelBaseline": "middle",
                "labelPadding": 7, "labelOffset": -17, "labelFontSize": 16}}
          }
        }
      ],
      "resolve": {"axis": {"x": "independent", "y": "independent"}}
    },
    {
      "width": 329, "height": 441,
      "data": {"name": "curves"},
      "transform": [{"filter": "datum.panel == 'f'"}],
      "layer": [
        {
          "mark": {"type": "line", "clip": true, "color": "black", "strokeWidth": 1.5, "interpolate": "monotone"},
          "encoding": {
            "x": {"field": "z", "type": "quantitative", "scale": {"domain": [0.1, 0.9], "nice": false, "zero": false},
              "axis": {"orient": "bottom", "values": [0.2, 0.3, 0.4, 0.5, 0.6, 0.7, 0.8], "labels": false, "title": null,
                "tickSize": {"condition": {"test": "datum.value == 0.3 || datum.value == 0.5 || datum.value == 0.7", "value": -13}, "value": -7}}},
            "y": {"field": "v", "type": "quantitative", "scale": {"type": "log", "domain": [0.0001, 3], "nice": false},
              "axis": {"orient": "left", "labels": false, "title": null,
                "values": [0.0001,0.0002,0.0003,0.0004,0.0005,0.0006,0.0007,0.0008,0.0009,0.001,0.002,0.003,0.004,0.005,0.006,0.007,0.008,0.009,0.01,0.02,0.03,0.04,0.05,0.06,0.07,0.08,0.09,0.1,0.2,0.3,0.4,0.5,0.6,0.7,0.8,0.9,1,2],
                "tickSize": {"condition": {"test": "indexof([0.0001,0.001,0.01,0.1,1], datum.value) >= 0", "value": -13}, "value": -7}}},
            "strokeDash": {"field": "series", "type": "nominal",
              "scale": {"domain": ["direct", "octet decay", "decuplet decay", "fragmentation"], "range": [[1, 0], [4, 3], [1.3, 2], [4, 3, 1.3, 3]]}}
          }
        },
        {
          "mark": {"type": "point", "opacity": 0},
          "encoding": {
            "x": {"field": "z", "type": "quantitative",
              "axis": {"orient": "top", "values": [0.2, 0.3, 0.4, 0.5, 0.6, 0.7, 0.8], "labels": false, "title": null,
                "tickSize": {"condition": {"test": "datum.value == 0.3 || datum.value == 0.5 || datum.value == 0.7", "value": -13}, "value": -7}}},
            "y": {"field": "v", "type": "quantitative",
              "axis": {"orient": "right", "labels": false, "title": null,
                "values": [0.0001,0.0002,0.0003,0.0004,0.0005,0.0006,0.0007,0.0008,0.0009,0.001,0.002,0.003,0.004,0.005,0.006,0.007,0.008,0.009,0.01,0.02,0.03,0.04,0.05,0.06,0.07,0.08,0.09,0.1,0.2,0.3,0.4,0.5,0.6,0.7,0.8,0.9,1,2],
                "tickSize": {"condition": {"test": "indexof([0.0001,0.001,0.01,0.1,1], datum.value) >= 0", "value": -13}, "value": -7}}}
          }
        },
        {
          "data": {"name": "notes"},
          "transform": [{"filter": "datum.panel == 'f'"}],
          "mark": {"type": "text", "align": "left", "baseline": "alphabetic", "fontSize": 24, "fontWeight": "bold", "font": "Liberation Sans", "color": "black"},
          "encoding": {
            "x": {"field": "z", "type": "quantitative",
              "axis": {"orient": "bottom", "ticks": false, "title": null, "values": [0.1, 0.3, 0.5, 0.7], "format": ".1f", "labelFontSize": 24, "labelPadding": 4}},
            "y": {"field": "v", "type": "quantitative", "axis": null},
            "text": {"field": "label"}
          }
        }
      ],
      "resolve": {"axis": {"x": "independent", "y": "independent"}}
    },
    {
      "width": 329, "height": 441,
      "data": {"name": "curves"},
      "transform": [{"filter": "datum.panel == 'g'"}],
      "layer": [
        {
          "mark": {"type": "line", "clip": true, "color": "black", "strokeWidth": 1.5, "interpolate": "monotone"},
          "encoding": {
            "x": {"field": "z", "type": "quantitative", "scale": {"domain": [0.1, 0.9], "nice": false, "zero": false},
              "axis": {"orient": "bottom", "values": [0.2, 0.3, 0.4, 0.5, 0.6, 0.7, 0.8], "labels": false, "title": null,
                "tickSize": {"condition": {"test": "datum.value == 0.3 || datum.value == 0.5 || datum.value == 0.7", "value": -13}, "value": -7}}},
            "y": {"field": "v", "type": "quantitative", "scale": {"type": "log", "domain": [0.0001, 3], "nice": false},
              "axis": {"orient": "left", "labels": false, "title": null,
                "values": [0.0001,0.0002,0.0003,0.0004,0.0005,0.0006,0.0007,0.0008,0.0009,0.001,0.002,0.003,0.004,0.005,0.006,0.007,0.008,0.009,0.01,0.02,0.03,0.04,0.05,0.06,0.07,0.08,0.09,0.1,0.2,0.3,0.4,0.5,0.6,0.7,0.8,0.9,1,2],
                "tickSize": {"condition": {"test": "indexof([0.0001,0.001,0.01,0.1,1], datum.value) >= 0", "value": -13}, "value": -7}}},
            "strokeDash": {"field": "series", "type": "nominal",
              "scale": {"domain": ["direct", "octet decay", "decuplet decay", "fragmentation"], "range": [[1, 0], [4, 3], [1.3, 2], [4, 3, 1.3, 3]]}}
          }
        },
        {
          "mark": {"type": "point", "opacity": 0},
          "encoding": {
            "x": {"field": "z", "type": "quantitative",
              "axis": {"orient": "top", "values": [0.2, 0.3, 0.4, 0.5, 0.6, 0.7, 0.8], "labels": false, "title": null,
                "tickSize": {"condition": {"test": "datum.value == 0.3 || datum.value == 0.5 || datum.value == 0.7", "value": -13}, "value": -7}}},
            "y": {"field": "v", "type": "quantitative",
              "axis": {"orient": "right", "labels": false, "title": null,
                "values": [0.0001,0.0002,0.0003,0.0004,0.0005,0.0006,0.0007,0.0008,0.0009,0.001,0.002,0.003,0.004,0.005,0.006,0.007,0.008,0.009,0.01,0.02,0.03,0.04,0.05,0.06,0.07,0.08,0.09,0.1,0.2,0.3,0.4,0.5,0.6,0.7,0.8,0.9,1,2],
                "tickSize": {"condition": {"test": "indexof([0.0001,0.001,0.01,0.1,1], datum.value) >= 0", "value": -13}, "value": -7}}}
          }
        },
        {
          "data": {"name": "notes"},
          "transform": [{"filter": "datum.panel == 'g'"}],
          "mark": {"type": "text", "align": "left", "baseline": "alphabetic", "fontSize": 24, "fontWeight": "bold", "font": "Liberation Sans", "color": "black"},
          "encoding": {
            "x": {"field": "z", "type": "quantitative",
              "axis": {"orient": "bottom", "ticks": false, "title": null, "values": [0.1, 0.3, 0.5, 0.7], "format": ".1f", "labelFontSize": 24, "labelPadding": 4}},
            "y": {"field": "v", "type": "quantitative",
              "axis": {"orient": "left", "ticks": false, "title": null, "values": [0.0001, 0.001, 0.01, 0.1, 1],
                "labelExpr": "datum.value == 1 ? '1' : '10'", "labelAlign": "right", "labelBaseline": "middle",
                "labelPadding": {"condition": {"test": "datum.value == 1", "value": 25}, "value": 34}, "labelOffset": 1.5, "labelFontSize": 22}},
            "text": {"field": "label"}
          }
        },
        {
          "mark": {"type": "point", "opacity": 0},
          "encoding": {
            "x": {"field": "z", "type": "quantitative", "axis": null},
            "y": {"field": "v", "type": "quantitative",
              "axis": {"orient": "left", "ticks": false, "title": null, "values": [0.0001, 0.001, 0.01, 0.1],
                "labelExpr": "'' + round(log(datum.value) / LN10)", "labelAlign": "right", "labelBaseline": "middle",
                "labelPadding": 7, "labelOffset": -17, "labelFontSize": 16}}
          }
        }
      ],
      "resolve": {"axis": {"x": "independent", "y": "independent"}}
    }
  ]
}
